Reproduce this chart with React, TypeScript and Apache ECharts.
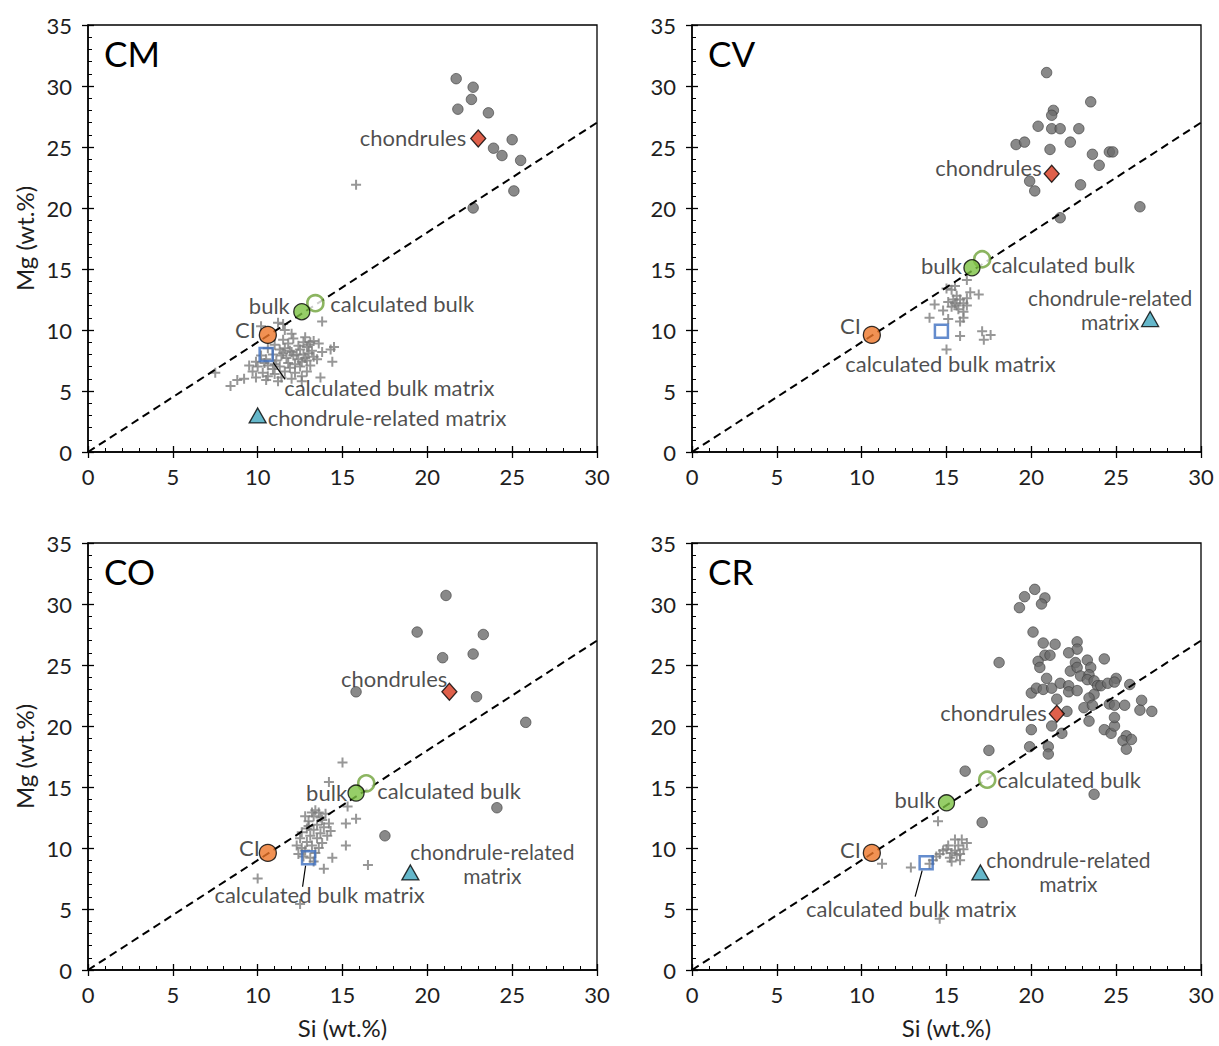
import React, { useEffect, useRef } from "react";
import * as echarts from "echarts";

const FONT = "Lato, 'Open Sans', sans-serif";
const TEXT = "#1e1e1e";

// CI chondrite composition (same in every panel) and the CI Mg/Si reference line
const ciBulk: [number, number] = [10.6, 9.6];
const ciLine: [number, number][] = [[0, 0], [30, 27]];

// ---------- CM ----------
const cmMatrix: [number, number][] = [
  [7.5, 6.5], [8.4, 5.4], [8.8, 5.9], [9.2, 6.0], [9.5, 7.1], [10.2, 10.3], [11.2, 10.6], [11.6, 10.0],
  [12.0, 9.7], [13.8, 10.7], [14.5, 8.6], [14.3, 8.4], [14.4, 7.4], [13.7, 6.1], [12.6, 5.8], [15.8, 21.9],
  [11.5, 9.2], [12.1, 9.3], [12.7, 9.0], [12.8, 9.4], [13.3, 9.1],
  [11.0, 8.8], [11.8, 8.9], [12.4, 8.7], [13.0, 8.8], [13.6, 8.9],
  [10.6, 8.5], [11.3, 8.4], [11.9, 8.3], [12.5, 8.4], [12.9, 8.6], [13.2, 8.3], [13.8, 8.2],
  [10.2, 7.9], [10.9, 8.0], [11.5, 8.1], [12.1, 7.9], [12.7, 8.0], [13.3, 7.8], [11.7, 7.7], [12.4, 7.6],
  [9.9, 7.4], [10.5, 7.6], [11.1, 7.5], [11.8, 7.3], [12.9, 7.5], [13.5, 7.6], [12.2, 7.2],
  [10.0, 7.0], [10.6, 7.1], [11.3, 7.0], [11.9, 6.9], [12.5, 7.0], [13.1, 7.1], [10.9, 6.8], [11.6, 6.6],
  [9.7, 6.6], [10.3, 6.5], [11.0, 6.4], [12.2, 6.5], [12.9, 6.6], [10.6, 6.2], [11.4, 6.1],
  [9.9, 6.1], [10.5, 5.9], [11.2, 5.8], [12.0, 6.0], [12.6, 6.2],
  [11.4, 7.9], [12.0, 8.2], [12.3, 8.0], [11.6, 8.5], [12.6, 7.4], [11.0, 7.2], [10.4, 7.3], [13.0, 8.1],
  [12.8, 7.7], [13.1, 9.0], [11.5, 10.5],
];
const cmChondrules: [number, number][] = [
  [21.7, 30.6], [22.7, 29.9], [22.6, 28.9], [21.8, 28.1], [23.6, 27.8], [25.0, 25.6],
  [23.9, 24.9], [24.4, 24.3], [25.5, 23.9], [25.1, 21.4], [22.7, 20.0],
];
const cmBulk: [number, number] = [12.6, 11.5];
const cmCalcBulk: [number, number] = [13.4, 12.2];
const cmCalcMatrix: [number, number] = [10.5, 8.0];
const cmChondruleMatrix: [number, number] = [10.0, 3.0];
const cmChondruleMean: [number, number] = [23.0, 25.7];

// ---------- CV ----------
const cvMatrix: [number, number][] = [
  [16.2, 14.1], [15.5, 13.6], [15.0, 13.4], [15.3, 13.3], [16.4, 13.1], [16.9, 12.9], [15.6, 12.8],
  [15.4, 12.5], [15.8, 12.5], [16.2, 12.6], [15.1, 12.3], [15.5, 12.2], [16.0, 12.2], [14.3, 12.1],
  [16.2, 12.0], [14.8, 11.6], [15.7, 11.7], [16.0, 11.5], [14.0, 11.0], [15.1, 10.9], [15.8, 10.7],
  [16.0, 11.0], [17.1, 9.9], [15.8, 9.5], [17.2, 9.2], [17.6, 9.6], [15.0, 8.4], [15.6, 12.0], [15.3, 11.9],
];
const cvChondrules: [number, number][] = [
  [20.9, 31.1], [23.5, 28.7], [21.3, 28.0], [21.2, 27.6], [20.4, 26.7], [21.2, 26.5], [21.7, 26.5],
  [22.8, 26.5], [19.1, 25.2], [19.6, 25.4], [21.1, 24.8], [22.3, 25.4], [23.6, 24.4], [24.6, 24.6],
  [24.8, 24.6], [24.0, 23.5], [19.9, 22.2], [20.2, 21.4], [22.9, 21.9], [26.4, 20.1], [21.7, 19.2],
];
const cvBulk: [number, number] = [16.5, 15.1];
const cvCalcBulk: [number, number] = [17.1, 15.8];
const cvCalcMatrix: [number, number] = [14.7, 9.9];
const cvChondruleMatrix: [number, number] = [27.0, 10.9];
const cvChondruleMean: [number, number] = [21.2, 22.8];

// ---------- CO ----------
const coMatrix: [number, number][] = [
  [12.3, 10.2], [12.5, 10.8], [12.6, 11.3], [12.8, 9.8], [12.9, 10.5], [12.9, 11.6], [13.0, 12.2],
  [13.1, 11.0], [13.2, 10.2], [13.3, 11.5], [13.3, 12.6], [13.4, 9.6], [13.5, 10.8], [13.5, 11.9],
  [13.6, 12.9], [13.7, 11.2], [13.8, 10.4], [13.8, 12.3], [13.9, 11.7], [14.0, 12.8], [14.1, 11.0],
  [14.2, 12.0], [12.7, 9.3], [13.1, 9.2], [12.4, 9.5], [13.0, 11.8], [13.6, 10.0], [12.8, 12.6],
  [13.4, 13.1], [14.3, 11.4], [13.2, 12.9], [12.6, 10.0], [13.7, 12.5],
  [15.0, 17.0], [14.2, 15.4], [15.3, 13.4], [15.8, 12.4], [15.2, 12.0], [15.2, 10.2], [16.5, 8.6],
  [13.9, 8.3], [10.0, 7.5], [12.5, 5.4], [13.3, 8.9], [14.4, 9.2],
];
const coChondrules: [number, number][] = [
  [21.1, 30.7], [19.4, 27.7], [23.3, 27.5], [22.7, 25.9], [20.9, 25.6], [15.8, 22.8],
  [22.9, 22.4], [25.8, 20.3], [17.5, 11.0], [24.1, 13.3],
];
const coBulk: [number, number] = [15.8, 14.5];
const coCalcBulk: [number, number] = [16.4, 15.3];
const coCalcMatrix: [number, number] = [13.0, 9.2];
const coChondruleMatrix: [number, number] = [19.0, 8.0];
const coChondruleMean: [number, number] = [21.3, 22.8];

// ---------- CR ----------
const crMatrix: [number, number][] = [
  [11.2, 8.7], [12.9, 8.4], [14.0, 8.7], [14.6, 4.2], [14.5, 12.2], [15.5, 10.7], [16.2, 10.4],
  [15.7, 10.2], [15.0, 9.9], [15.3, 9.6], [14.6, 9.5], [15.6, 9.4], [15.8, 9.0], [14.4, 9.3],
  [15.2, 9.2], [15.5, 9.8], [16.0, 9.9], [14.8, 9.8], [15.1, 10.2], [15.9, 10.7], [15.3, 8.9],
  [14.2, 9.0], [15.8, 9.5],
];
const crChondrules: [number, number][] = [
  [20.2, 31.2], [19.6, 30.6], [20.8, 30.5], [20.6, 30.0], [19.3, 29.7], [20.1, 27.7], [20.7, 26.8],
  [21.4, 26.7], [22.7, 26.9], [22.7, 26.3], [22.2, 26.0], [20.8, 25.8], [21.1, 25.8], [18.1, 25.2],
  [20.4, 25.3], [20.5, 24.8], [22.6, 25.2], [23.3, 25.4], [24.3, 25.5], [22.3, 24.5], [22.7, 24.8],
  [23.5, 24.8], [22.9, 24.1], [23.4, 24.2], [20.9, 23.9], [20.0, 22.7], [20.3, 23.1], [20.7, 23.0],
  [21.2, 23.1], [21.7, 23.5], [22.2, 23.3], [22.2, 22.8], [22.7, 22.9], [23.3, 23.8], [23.7, 23.7],
  [23.9, 23.3], [24.1, 23.3], [24.5, 23.5], [25.0, 23.9], [24.9, 23.6], [25.8, 23.4], [23.7, 22.6],
  [23.4, 22.3], [21.5, 22.2], [22.1, 21.2], [23.1, 21.5], [23.6, 21.7], [24.6, 21.8], [24.9, 21.7],
  [25.5, 21.7], [26.5, 22.1], [26.4, 21.3], [27.1, 21.2], [21.2, 20.0], [21.8, 19.4], [20.0, 19.7],
  [23.4, 20.4], [24.3, 19.7], [24.7, 19.4], [24.9, 20.0], [24.9, 20.7], [25.6, 19.2], [25.4, 18.8],
  [25.9, 18.9], [25.6, 18.1], [19.9, 18.3], [21.0, 18.3], [21.0, 17.7], [17.5, 18.0], [16.1, 16.3],
  [17.1, 12.1], [23.7, 14.4],
];
const crBulk: [number, number] = [15.0, 13.7];
const crCalcBulk: [number, number] = [17.4, 15.6];
const crCalcMatrix: [number, number] = [13.8, 8.8];
const crChondruleMatrix: [number, number] = [17.0, 8.0];
const crChondruleMean: [number, number] = [21.5, 21.0];

type LabelSpec = { align: "left" | "right" | "center"; offset: [number, number] };

const panels = [
  {
    name: "CM", left: 88, top: 25, yName: true, xName: false,
    matrix: cmMatrix, chondrules: cmChondrules, bulk: cmBulk, calcBulk: cmCalcBulk,
    calcMatrix: cmCalcMatrix, chondruleMatrix: cmChondruleMatrix, chondruleMean: cmChondruleMean,
    chondruleMatrixText: "chondrule-related matrix",
    labels: {
      mean: { align: "right", offset: [-12, -1] }, bulk: { align: "right", offset: [-12, -6] },
      calc: { align: "left", offset: [15, 0] }, ci: { align: "right", offset: [-12, -5] },
      calcMatrix: { align: "left", offset: [18, 33] }, chondMatrix: { align: "left", offset: [10, 2] },
    } as Record<string, LabelSpec>,
    leader: [7, 8, 19, 25],
  },
  {
    name: "CV", left: 692, top: 25, yName: false, xName: false,
    matrix: cvMatrix, chondrules: cvChondrules, bulk: cvBulk, calcBulk: cvCalcBulk,
    calcMatrix: cvCalcMatrix, chondruleMatrix: cvChondruleMatrix, chondruleMean: cvChondruleMean,
    chondruleMatrixText: "chondrule-related\nmatrix",
    labels: {
      mean: { align: "right", offset: [-10, -6] }, bulk: { align: "right", offset: [-10, -2] },
      calc: { align: "left", offset: [9, 5] }, ci: { align: "right", offset: [-11, -9] },
      calcMatrix: { align: "center", offset: [9, 32] }, chondMatrix: { align: "center", offset: [-40, -10] },
    } as Record<string, LabelSpec>,
    leader: null,
  },
  {
    name: "CO", left: 88, top: 543, yName: true, xName: true,
    matrix: coMatrix, chondrules: coChondrules, bulk: coBulk, calcBulk: coCalcBulk,
    calcMatrix: coCalcMatrix, chondruleMatrix: coChondruleMatrix, chondruleMean: coChondruleMean,
    chondruleMatrixText: "chondrule-related\nmatrix",
    labels: {
      mean: { align: "right", offset: [-2, -13] }, bulk: { align: "right", offset: [-9, -1] },
      calc: { align: "left", offset: [11, 7] }, ci: { align: "right", offset: [-8, -5] },
      calcMatrix: { align: "center", offset: [11, 37] }, chondMatrix: { align: "center", offset: [82, -9] },
    } as Record<string, LabelSpec>,
    leader: [-3, 8, -6, 29],
  },
  {
    name: "CR", left: 692, top: 543, yName: false, xName: true,
    matrix: crMatrix, chondrules: crChondrules, bulk: crBulk, calcBulk: crCalcBulk,
    calcMatrix: crCalcMatrix, chondruleMatrix: crChondruleMatrix, chondruleMean: crChondruleMean,
    chondruleMatrixText: "chondrule-related\nmatrix",
    labels: {
      mean: { align: "right", offset: [-10, -1] }, bulk: { align: "right", offset: [-11, -3] },
      calc: { align: "left", offset: [10, 0] }, ci: { align: "right", offset: [-11, -3] },
      calcMatrix: { align: "center", offset: [-15, 46] }, chondMatrix: { align: "center", offset: [88, -1] },
    } as Record<string, LabelSpec>,
    leader: [-4, 8, -11, 34],
  },
];

const PLOT_W = 509;
const PLOT_H = 427;
const PLUS = "path://M0.4,0H0.6V0.4H1V0.6H0.6V1H0.4V0.6H0V0.4H0.4Z";

function label(text: string, spec: LabelSpec) {
  const multiLine = text.includes("\n");
  return {
    show: true,
    position: "inside",
    formatter: text,
    align: spec.align,
    verticalAlign: "middle",
    offset: spec.offset,
    color: TEXT,
    fontSize: multiLine ? 21 : 22,
    lineHeight: multiLine ? 24 : 22,
    fontFamily: FONT,
  };
}

function buildOption() {
  const grid: any[] = [];
  const xAxis: any[] = [];
  const yAxis: any[] = [];
  const series: any[] = [];
  const title: any[] = [];

  panels.forEach((p, i) => {
    grid.push({
      left: p.left, top: p.top, width: PLOT_W, height: PLOT_H,
      show: true, borderColor: "#000", borderWidth: 1.3, backgroundColor: "transparent",
    });
    title.push({
      text: p.name, left: p.left + 11, top: p.top + 5,
      textStyle: { fontFamily: FONT, fontSize: 35, fontWeight: "normal", color: "#000" },
    });
    const tickStyle = { color: "#000", width: 1.3 };
    const baseX = { gridIndex: i, type: "value", min: 0, max: 30, interval: 5, position: "bottom" };
    const baseY = { gridIndex: i, type: "value", min: 0, max: 35, interval: 5, position: "left" };
    xAxis.push({
      ...baseX,
      axisLine: { show: true, onZero: false, lineStyle: { color: "#000", width: 1.5 } },
      axisTick: { show: true, inside: true, length: 6, lineStyle: tickStyle },
      minorTick: { show: true, splitNumber: 5, length: 4, lineStyle: { color: "#000", width: 1 } },
      splitLine: { show: false },
      axisLabel: { fontSize: 22, color: TEXT, margin: 13, fontFamily: FONT },
      name: p.xName ? "Si (wt.%)" : "",
      nameLocation: "middle",
      nameGap: 45,
      nameTextStyle: { fontSize: 24, color: TEXT, fontFamily: FONT },
    });
    xAxis.push({
      ...baseX,
      axisLine: { show: false },
      axisTick: { show: true, inside: false, length: 6, lineStyle: tickStyle },
      axisLabel: { show: false },
      splitLine: { show: false },
    });
    yAxis.push({
      ...baseY,
      axisLine: { show: true, onZero: false, lineStyle: { color: "#000", width: 1.5 } },
      axisTick: { show: true, inside: true, length: 6, lineStyle: tickStyle },
      minorTick: { show: true, splitNumber: 5, length: 4, lineStyle: { color: "#000", width: 1 } },
      splitLine: { show: false },
      axisLabel: { fontSize: 22, color: TEXT, margin: 16, fontFamily: FONT },
      name: p.yName ? "Mg (wt.%)" : "",
      nameLocation: "middle",
      nameGap: 52,
      nameTextStyle: { fontSize: 24, color: TEXT, fontFamily: FONT },
    });
    yAxis.push({
      ...baseY,
      axisLine: { show: false },
      axisTick: { show: true, inside: false, length: 6, lineStyle: tickStyle },
      axisLabel: { show: false },
      splitLine: { show: false },
    });

    const ax = { xAxisIndex: 2 * i, yAxisIndex: 2 * i };
    series.push({
      ...ax, type: "scatter", data: p.matrix, symbol: PLUS, symbolSize: 10,
      itemStyle: { color: "#7d7d7d" }, z: 2, silent: true,
    });
    series.push({
      ...ax, type: "scatter", data: p.chondrules, symbol: "circle", symbolSize: 10.5,
      itemStyle: { color: "#6b6b6b", borderColor: "#3a3a3a", borderWidth: 0.8 }, z: 2, silent: true,
    });
    series.push({
      ...ax, type: "line", data: ciLine, showSymbol: false, z: 3, silent: true,
      lineStyle: { color: "#000", width: 2, type: [8, 5] },
    });
    const L = p.labels;
    series.push({
      ...ax, type: "scatter", data: [p.chondruleMean], symbol: "diamond", symbolSize: [15, 17], z: 5,
      itemStyle: { color: "#d7381e", borderColor: "#000", borderWidth: 1.3 },
      label: label("chondrules", L.mean),
    });
    series.push({
      ...ax, type: "scatter", data: [p.calcMatrix], symbol: "rect", symbolSize: 13, z: 5,
      itemStyle: { color: "rgba(255,255,255,0)", borderColor: "#3d6fc0", borderWidth: 2.5 },
      label: label("calculated bulk matrix", L.calcMatrix),
    });
    series.push({
      ...ax, type: "scatter", data: [p.chondruleMatrix], symbol: "triangle", symbolSize: [17, 15], z: 5,
      itemStyle: { color: "#3fa5bd", borderColor: "#000", borderWidth: 1.3 },
      label: label(p.chondruleMatrixText, L.chondMatrix),
    });
    series.push({
      ...ax, type: "scatter", data: [ciBulk], symbol: "circle", symbolSize: 17, z: 6,
      itemStyle: { color: "#ee7628", borderColor: "#000", borderWidth: 1.3 },
      label: label("CI", L.ci),
    });
    series.push({
      ...ax, type: "scatter", data: [p.calcBulk], symbol: "circle", symbolSize: 16, z: 6,
      itemStyle: { color: "#ffffff", borderColor: "#6fa33a", borderWidth: 2.6 },
      label: label("calculated bulk", L.calc),
    });
    series.push({
      ...ax, type: "scatter", data: [p.bulk], symbol: "circle", symbolSize: 16, z: 7,
      itemStyle: { color: "#7cc242", borderColor: "#000", borderWidth: 1.3 },
      label: label("bulk", L.bulk),
    });
  });

  return { animation: false, backgroundColor: "#fff", title, grid, xAxis, yAxis, series };
}

export default function App() {
  const ref = useRef<HTMLDivElement>(null);
  useEffect(() => {
    if (!ref.current) return;
    const chart = echarts.init(ref.current, undefined, { renderer: "svg" });
    chart.setOption(buildOption() as any);
    // leader lines from the calculated-bulk-matrix squares to their labels
    const graphic: any[] = [];
    panels.forEach((p, i) => {
      if (!p.leader) return;
      const pt = chart.convertToPixel({ xAxisIndex: 2 * i, yAxisIndex: 2 * i } as any, p.calcMatrix) as number[];
      const [a, b, c, d] = p.leader;
      graphic.push({
        type: "line", z: 10,
        shape: { x1: pt[0] + a, y1: pt[1] + b, x2: pt[0] + c, y2: pt[1] + d },
        style: { stroke: "#000", lineWidth: 1.2 },
      });
    });
    chart.setOption({ graphic });
    return () => chart.dispose();
  }, []);
  return (
    <div
      ref={ref}
      style={{ position: "fixed", left: 0, top: 0, width: 1219, height: 1046, background: "#fff" }}
    />
  );
}
